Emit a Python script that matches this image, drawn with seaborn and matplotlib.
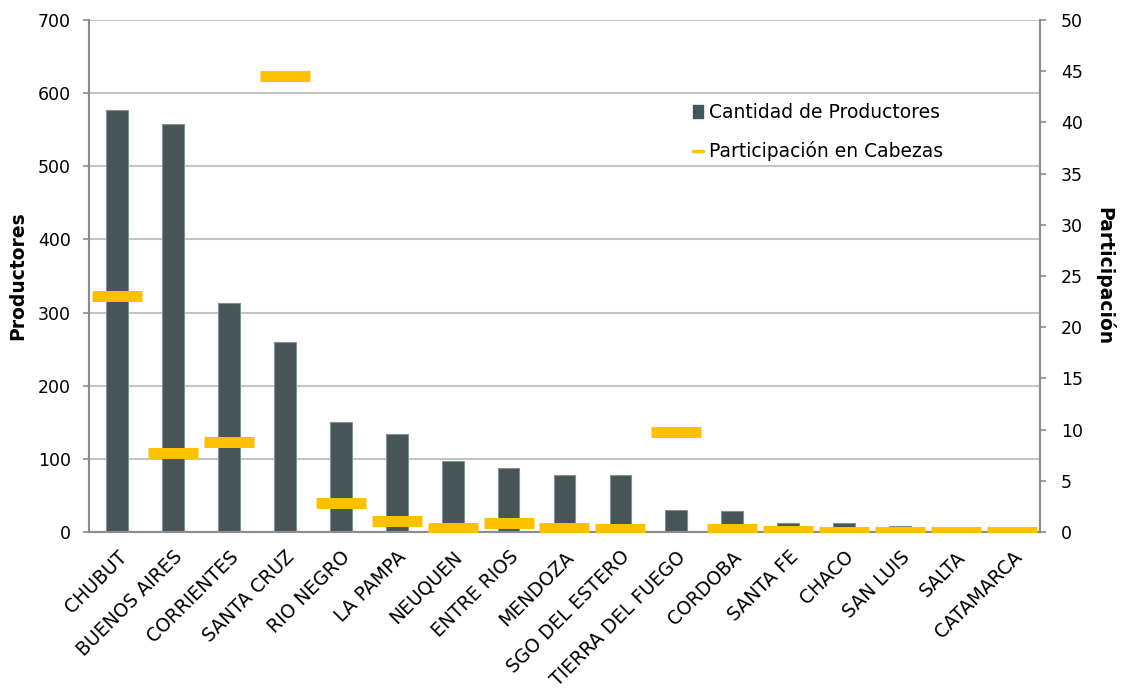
import numpy as np
import matplotlib
matplotlib.use("Agg")
import matplotlib.pyplot as plt
import seaborn as sns
from matplotlib.patches import Patch
from matplotlib.lines import Line2D

provincias = ["CHUBUT", "BUENOS AIRES", "CORRIENTES", "SANTA CRUZ", "RIO NEGRO",
              "LA PAMPA", "NEUQUEN", "ENTRE RIOS", "MENDOZA", "SGO DEL ESTERO",
              "TIERRA DEL FUEGO", "CORDOBA", "SANTA FE", "CHACO", "SAN LUIS",
              "SALTA", "CATAMARCA"]
productores = [577, 558, 313, 260, 150, 134, 97, 87, 78, 78, 30, 29, 13, 12, 8, 2, 1]
participacion = [23.0, 7.7, 8.8, 44.5, 2.8, 1.1, 0.4, 0.9, 0.4, 0.3, 9.8, 0.3,
                 0.1, 0.0, 0.0, 0.0, 0.0]

bar_color = "#44575c"
dash_color = "#FFC000"
axis_color = "#8c8c8c"

sns.set_style("white")
plt.rcParams["font.family"] = ["DejaVu Sans"]
plt.rcParams["text.color"] = "black"

fig = plt.figure(figsize=(11.22, 6.95), dpi=100)
ax = fig.add_axes([0.0793, 0.2345, 0.8476, 0.7367])

x = np.arange(len(provincias))
sns.barplot(x=x, y=productores, color=bar_color, width=0.39,
            edgecolor="#7f8f92", linewidth=0.8, ax=ax, native_scale=True)
ax.set_xlim(-0.5, len(provincias) - 0.5)
ax.set_ylim(0, 700)
ax.set_yticks(range(0, 701, 100))
ax.grid(axis="y", color="#c4c4c4", linewidth=1.5)
ax.set_axisbelow(True)

ax2 = ax.twinx()
ax2.plot(x, participacion, linestyle="none", marker="_", markersize=36.7,
         markeredgewidth=7.9, color=dash_color, zorder=5)
ax2.set_ylim(0, 50)
ax2.set_yticks(range(0, 51, 5))
ax2.set_xlim(-0.5, len(provincias) - 0.5)

# x ticks: labels at centers, tick marks at category boundaries
ax.set_xticks(x)
ax.set_xticklabels(provincias, rotation=45, ha="right", rotation_mode="anchor",
                   fontsize=13.5)
ax.set_xticks(np.arange(-0.5, len(provincias), 1), minor=True)
ax.tick_params(axis="x", which="major", length=0, pad=11, labelcolor="black")
ax.tick_params(axis="x", which="minor", length=4, color=axis_color, width=1.2)
ax.tick_params(axis="y", length=4, color=axis_color, width=1.2, labelsize=12.5,
               left=True, pad=9, labelcolor="black")
ax2.tick_params(axis="y", length=4, color=axis_color, width=1.2, labelsize=12.5,
                right=True, pad=11, labelcolor="black")

for a in (ax, ax2):
    a.spines["top"].set_visible(False)
    for s in ("left", "right", "bottom"):
        a.spines[s].set_color(axis_color)
        a.spines[s].set_linewidth(1.5)

ax.set_xlabel("")
ax.set_ylabel("Productores", fontsize=13.5, fontweight="bold", color="black")
ax.yaxis.set_label_coords(-0.065, 0.5)
ax2.set_ylabel("Participación", fontsize=13.5, fontweight="bold", rotation=-90,
               color="black", va="center")
ax2.yaxis.set_label_coords(1.068, 0.5)

handles = [Patch(facecolor=bar_color, edgecolor=bar_color),
           Line2D([0], [0], color=dash_color, linewidth=2.5)]
ax.legend(handles, ["Cantidad de Productores", "Participación en Cabezas"],
          loc="upper left", bbox_to_anchor=(0.617, 0.87), frameon=False,
          fontsize=13.5, labelspacing=1.0, handlelength=0.55, handletextpad=0.3)

fig.savefig("out.png", dpi=100)
